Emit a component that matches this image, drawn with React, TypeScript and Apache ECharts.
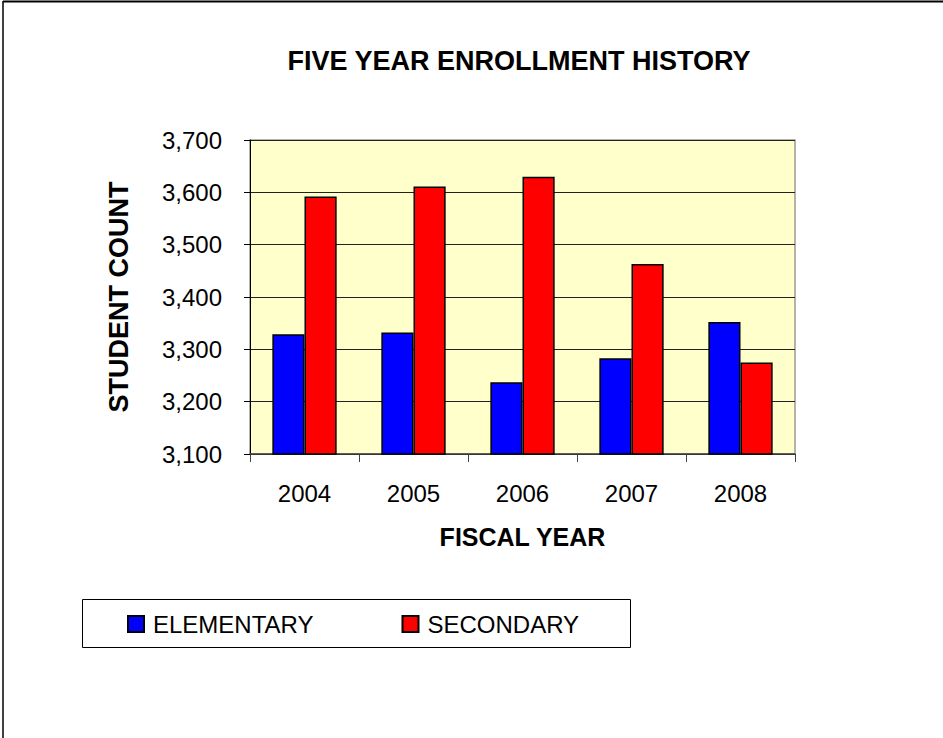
import React, { useEffect, useRef } from "react";
import * as echarts from "echarts";

const years = ["2004", "2005", "2006", "2007", "2008"];
const elementary = [3329, 3332, 3237, 3283, 3352];
const secondary = [3592, 3611, 3630, 3463, 3275];
const yMin = 3100;
const yMax = 3700;
const yStep = 100;

const FONT = "Liberation Sans, Arial, sans-serif";

export default function App() {
  const ref = useRef<HTMLDivElement>(null);
  useEffect(() => {
    const chart = echarts.init(ref.current!, null, { renderer: "svg" });
    chart.setOption({
      animation: false,
      backgroundColor: "#ffffff",
      textStyle: { fontFamily: FONT, color: "#000" },
      title: {
        text: "FIVE YEAR ENROLLMENT HISTORY",
        left: 514,
        top: 42,
        textAlign: "center",
        textStyle: { fontFamily: FONT, fontWeight: "bold", fontSize: 27, color: "#000" },
      },
      grid: {
        left: 250,
        top: 140,
        width: 545,
        height: 314,
        show: true,
        backgroundColor: "#FFFFCC",
        borderColor: "#9a9a9a",
        borderWidth: 1.5,
      },
      legend: {
        left: 127,
        top: 612,
        padding: 0,
        itemWidth: 16,
        itemHeight: 16,
        itemGap: 88,
        icon: "rect",
        textStyle: { fontFamily: FONT, fontSize: 24, color: "#000", padding: [0, 0, 4, 4] },
        data: ["ELEMENTARY", "SECONDARY"],
      },
      xAxis: {
        type: "category",
        data: years,
        name: "FISCAL YEAR",
        nameLocation: "middle",
        nameGap: 70,
        nameTextStyle: { fontFamily: FONT, fontWeight: "bold", fontSize: 25, color: "#000" },
        axisLine: { lineStyle: { color: "#404040", width: 1.5 } },
        axisTick: { show: true, length: 8, inside: false, lineStyle: { color: "#404040" } },
        axisLabel: { fontFamily: FONT, fontSize: 24, color: "#000", margin: 27 },
      },
      yAxis: {
        type: "value",
        min: yMin,
        max: yMax,
        interval: yStep,
        name: "STUDENT COUNT",
        nameLocation: "middle",
        nameGap: 118,
        nameTextStyle: { fontFamily: FONT, fontWeight: "bold", fontSize: 27, color: "#000" },
        axisLine: { show: true, lineStyle: { color: "#000", width: 1 } },
        axisTick: { show: true, length: 6, lineStyle: { color: "#000" } },
        axisLabel: {
          fontFamily: FONT,
          fontSize: 24,
          color: "#000",
          margin: 28,
          formatter: (v: number) => v.toLocaleString("en-US"),
        },
        splitLine: { show: true, lineStyle: { color: "#222", width: 1 } },
      },
      series: [
        {
          name: "ELEMENTARY",
          type: "bar",
          data: elementary,
          barGap: "0%",
          barCategoryGap: "41%",
          itemStyle: { color: "#0000FF", borderColor: "#000", borderWidth: 1.5 },
        },
        {
          name: "SECONDARY",
          type: "bar",
          data: secondary,
          barGap: "0%",
          barCategoryGap: "41%",
          itemStyle: { color: "#FF0000", borderColor: "#000", borderWidth: 1.5 },
        },
      ],
      graphic: [
        {
          type: "rect",
          shape: { x: 82.5, y: 599.5, width: 548, height: 48 },
          style: { fill: "none", stroke: "#000", lineWidth: 1 },
          z: 1,
        },
        {
          type: "line",
          shape: { x1: 3, y1: 1.5, x2: 943, y2: 1.5 },
          style: { stroke: "#000", lineWidth: 2 },
        },
        {
          type: "line",
          shape: { x1: 3, y1: 1, x2: 3, y2: 738 },
          style: { stroke: "#000", lineWidth: 1.5 },
        },
      ],
    });
    return () => chart.dispose();
  }, []);
  return (
    <div
      ref={ref}
      style={{ position: "fixed", left: 0, top: 0, width: 943, height: 738 }}
    />
  );
}
